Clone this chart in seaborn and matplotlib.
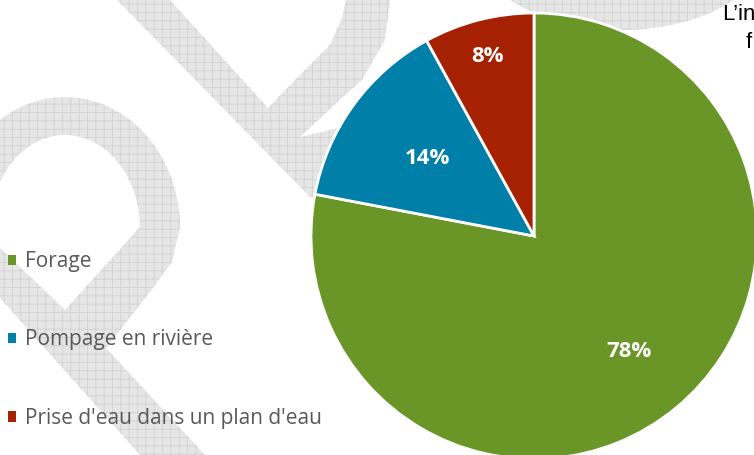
import numpy as np
import matplotlib.pyplot as plt
import seaborn as sns
from matplotlib.patches import Polygon, Ellipse, Patch

# data
categories = ['Forage', 'Pompage en rivière', "Prise d'eau dans un plan d'eau"]
shares = [78, 14, 8]
colors = ['#6a9628', '#007fa8', '#a62102']
label_dist = [0.67, 0.59, 0.83]

sns.set_theme(style='white')
plt.rcParams['font.family'] = ['Open Sans', 'DejaVu Sans']
plt.rcParams['hatch.linewidth'] = 0.6

fig = plt.figure(figsize=(7.54, 4.55), dpi=100)

# faint watermark behind the chart (pixel coordinates)
bg = fig.add_axes([0, 0, 1, 1])
bg.set_xlim(0, 754)
bg.set_ylim(455, 0)
bg.axis('off')
wm = dict(facecolor='#e6e6e6', edgecolor='#d2d2d2', hatch='++', linewidth=0)

t = np.linspace(np.pi, 0, 60)
outer = np.c_[65 + 115 * np.cos(t), 228 - 131 * np.sin(t)]
inner = np.c_[65 + 75 * np.cos(t[::-1]), 228 - 93 * np.sin(t[::-1])]
bg.add_patch(Polygon(np.vstack([outer, inner]), **wm))
bg.add_patch(Polygon([(0, 248), (65, 310), (140, 227), (180, 227), (172, 262),
                      (150, 292), (106, 348), (205, 455), (140, 455), (0, 298)], **wm))
bg.add_patch(Polygon([(117, 0), (170, 0), (268, 108), (300, 75), (330, 45), (342, 18),
                      (346, 0), (390, 0), (385, 40), (362, 80), (343, 97), (300, 137),
                      (343, 127), (325, 200), (310, 197)], **wm))
bg.add_patch(Ellipse((622, -60), 300, 180, **wm))

# pie
ax = fig.add_axes([(534 - 223) / 754, (455 - 236 - 223) / 455, 446 / 754, 446 / 455])
wedges, _ = ax.pie(shares, colors=colors, startangle=90, counterclock=False,
                   wedgeprops=dict(edgecolor='white', linewidth=2))
ax.set_xlim(-1, 1)
ax.set_ylim(-1, 1)
ax.set_aspect('equal')
ax.axis('off')

for w, v, d in zip(wedges, shares, label_dist):
    a = np.deg2rad((w.theta1 + w.theta2) / 2)
    ax.text(d * np.cos(a), d * np.sin(a), f'{v}%', ha='center', va='center',
            color='white', fontsize=16, fontweight='bold')

handles = [Patch(facecolor=c, edgecolor='none') for c in colors]
fig.legend(handles, categories, loc='center left', bbox_to_anchor=(8 / 754, 1 - 340 / 455),
           frameon=False, fontsize=15, labelcolor='#595959', handlelength=0.4,
           handleheight=0.4, handletextpad=0.4, labelspacing=2.75,
           borderpad=0, borderaxespad=0)

# fragments of surrounding document text
fig.text(722 / 754, 1 - 14 / 455, 'L’in', fontsize=16, color='black',
         family='Liberation Sans', va='center')
fig.text(746 / 754, 1 - 43 / 455, 'f', fontsize=16, color='black',
         family='Liberation Sans', va='center')

fig.savefig('out.png', dpi=100)
